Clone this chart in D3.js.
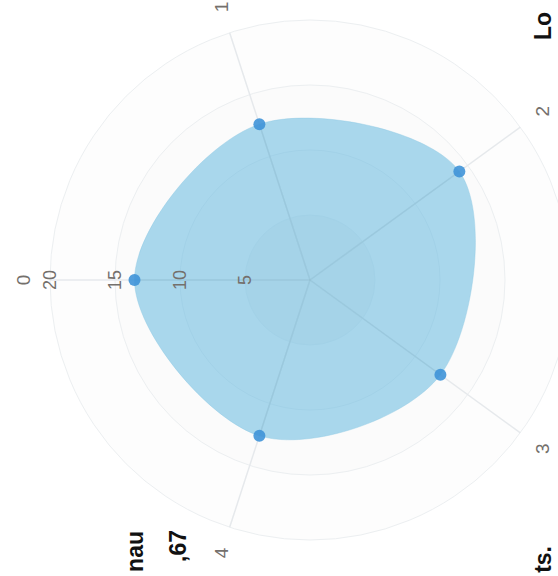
<!DOCTYPE html>
<html>
<head>
<meta charset="utf-8">
<script src="https://cdn.jsdelivr.net/npm/d3@7"></script>
<style>
  html, body { margin: 0; padding: 0; background: #ffffff; }
  svg { display: block; }
</style>
</head>
<body>
<svg id="chart" width="558" height="576"></svg>
<script>
// ---- data ----
const axes = ["0", "1", "2", "3", "4"];
const values = [13.5, 12.6, 14.2, 12.4, 12.6];
const levelTicks = [5, 10, 15, 20];
const maxValue = 20;
// fragments of surrounding page text (cropped, rotated)
const fragments = ["nau", ",67", "ts.", "Lo"];

const svg = d3.select("#chart");
const W = 558, H = 576;
svg.append("rect").attr("width", W).attr("height", H).attr("fill", "#ffffff");

const cx = 310, cy = 280, R = 260, labelR = 287;
const rScale = d3.scaleLinear().domain([0, maxValue]).range([0, R]);
const angle = d3.scaleLinear().domain([0, axes.length]).range([0, 2 * Math.PI]);

// whole chart is rotated by -90 degrees (as in the photographed figure)
const g = svg.append("g").attr("transform", `translate(${cx},${cy}) rotate(-90)`);

// grid rings (very faint)
g.selectAll("circle.ring").data(levelTicks.slice().reverse()).join("circle")
  .attr("class", "ring")
  .attr("r", d => rScale(d))
  .attr("fill", "#cdcdcd").attr("fill-opacity", d => d === levelTicks[0] ? 0.16 : 0.035)
  .attr("stroke", "#eceff1").attr("stroke-width", 1);

// axis lines
const px = (i, v) => rScale(v) * Math.sin(angle(i));
const py = (i, v) => -rScale(v) * Math.cos(angle(i));
g.selectAll("line.axis").data(axes).join("line")
  .attr("class", "axis")
  .attr("x1", 0).attr("y1", 0)
  .attr("x2", (d, i) => px(i, maxValue)).attr("y2", (d, i) => py(i, maxValue))
  .attr("stroke", "#e6e9ec").attr("stroke-width", 1.5);

// radar area
const radarLine = d3.lineRadial()
  .curve(d3.curveCardinalClosed)
  .radius(d => rScale(d))
  .angle((d, i) => angle(i));
g.append("path")
  .datum(values)
  .attr("d", radarLine)
  .attr("fill", "#58b4de")
  .attr("fill-opacity", 0.5)
  .attr("stroke", "#8cc8e4").attr("stroke-width", 1).attr("stroke-opacity", 0.4);

// faint axis lines visible through the area
g.selectAll("line.axisin").data(axes).join("line")
  .attr("class", "axisin")
  .attr("x1", 0).attr("y1", 0)
  .attr("x2", (d, i) => px(i, values[i])).attr("y2", (d, i) => py(i, values[i]))
  .attr("stroke", "#8fb8c8").attr("stroke-opacity", 0.25).attr("stroke-width", 1.5);

// dots
g.selectAll("circle.dot").data(values).join("circle")
  .attr("class", "dot")
  .attr("cx", (d, i) => px(i, d)).attr("cy", (d, i) => py(i, d))
  .attr("r", 6)
  .attr("fill", "#3f93d8").attr("fill-opacity", 0.9);

// level labels along axis 0
g.selectAll("text.level").data(levelTicks).join("text")
  .attr("class", "level")
  .attr("x", 0).attr("y", d => -rScale(d))
  .attr("dy", "0.36em")
  .attr("text-anchor", "middle")
  .attr("font-family", "Liberation Sans, Arial, sans-serif")
  .attr("font-size", 18)
  .attr("fill", "#74706c")
  .text(d => d);

// axis labels
g.selectAll("text.axislabel").data(axes).join("text")
  .attr("class", "axislabel")
  .attr("x", (d, i) => labelR * Math.sin(angle(i)))
  .attr("y", (d, i) => -labelR * Math.cos(angle(i)))
  .attr("dy", "0.36em")
  .attr("text-anchor", "middle")
  .attr("font-family", "Liberation Sans, Arial, sans-serif")
  .attr("font-size", 19)
  .attr("fill", "#74706c")
  .text(d => d);

// cropped page text fragments (bold, rotated)
const fragPos = [
  {x: 143, y: 531, anchor: "end"},
  {x: 186, y: 530, anchor: "end"},
  {x: 551, y: 546, anchor: "end"},
  {x: 551, y: 40, anchor: "start"}
];
svg.selectAll("text.frag").data(fragments).join("text")
  .attr("class", "frag")
  .attr("transform", (d, i) => `translate(${fragPos[i].x},${fragPos[i].y}) rotate(-90)`)
  .attr("text-anchor", (d, i) => fragPos[i].anchor)
  .attr("font-family", "Liberation Sans, Arial, sans-serif")
  .attr("font-weight", "bold")
  .attr("font-size", 23)
  .attr("fill", "#111")
  .text(d => d);
</script>
</body>
</html>
